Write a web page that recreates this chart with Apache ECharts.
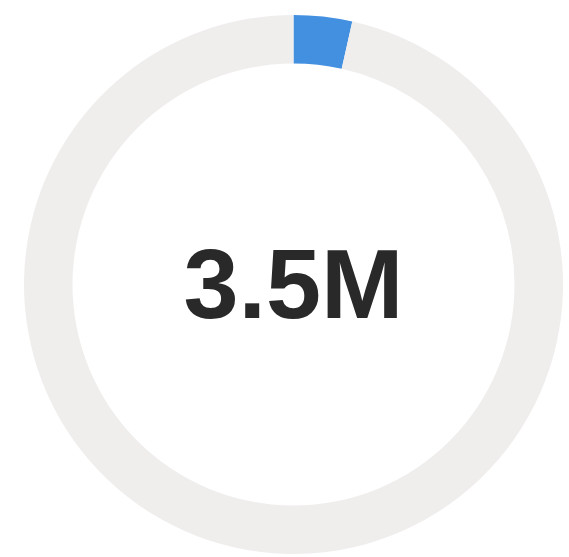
<!DOCTYPE html>
<html>
<head>
<meta charset="utf-8">
<script src="https://cdn.jsdelivr.net/npm/echarts@6/dist/echarts.min.js"></script>
<style>
  html, body { margin: 0; padding: 0; background: #fff; }
  #chart { width: 569px; height: 557px; }
</style>
</head>
<body>
<div id="chart"></div>
<script>
// donut: share vs remainder
var slice_names = ['Value', 'Rest'];
var slice_values = [3.5, 96.5];
var slice_colors = ['#4390e1', '#f0eded'];
var center_label = '3.5M';

var chart = echarts.init(document.getElementById('chart'));

var pie_data = slice_values.map(function(v, i) {
    return {
        name: slice_names[i],
        value: v,
        itemStyle: { color: slice_colors[i] }
    };
});

chart.setOption({
    animation: false,
    series: [{
        type: 'pie',
        center: [293.5, 284.5],
        radius: [221, 269.5],
        startAngle: 90,
        clockwise: true,
        silent: true,
        label: { show: false },
        labelLine: { show: false },
        itemStyle: { borderWidth: 0 },
        data: pie_data
    }],
    graphic: [{
        type: 'text',
        x: 293.5,
        y: 291,
        style: {
            text: center_label,
            fill: '#292929',
            font: 'bold 99px "Liberation Sans", Arial, sans-serif',
            align: 'center',
            verticalAlign: 'middle'
        }
    }]
});
</script>
</body>
</html>
